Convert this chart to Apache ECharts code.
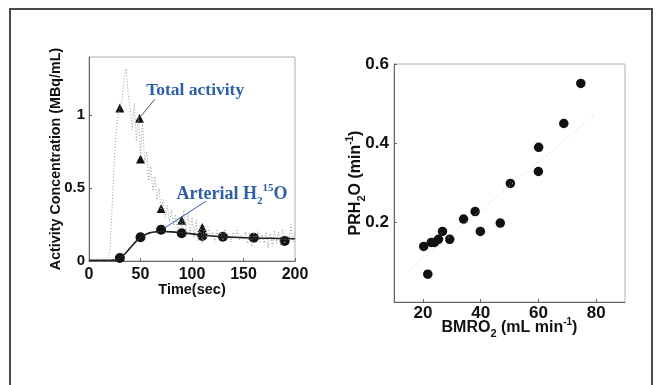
<!DOCTYPE html>
<html>
<head>
<meta charset="utf-8">
<script src="https://cdn.jsdelivr.net/npm/echarts@6/dist/echarts.min.js"></script>
<style>
  html, body { margin: 0; padding: 0; background: #fff; }
  #chart { width: 657px; height: 385px; }
</style>
</head>
<body>
<div id="chart"></div>
<script>
// ---- Left panel: arterial input curves ----
// Raw total activity samples (s, MBq/mL)
const rawTimes = [0,2,4,6,8,10,12,14,16,18,20,22,24,26,28,30,32,34,36,38,40,42,44,46,48,50,52,54,56,58,60,62,64,66,68,70,72,74,76,78,80,82,84,86,88,90,92,94,96,98,100,102,104,106,108,110,112,114,116,118,120,122,124,126,128,130,132,134,136,138,140,142,144,146,148,150,152,154,156,158,160,162,164,166,168,170,172,174,176,178,180,182,184,186,188,190,192,194,196,198,200];
const rawTotal = [0.005,0.01,0.0,0.01,0.02,0.01,0.01,0.015,0.01,0.02,0.05,0.3,0.6,0.85,1.0,1.05,1.1,1.25,1.32,1.15,1.05,0.9,1.08,0.82,1.0,0.72,0.95,0.68,0.75,0.55,0.65,0.48,0.58,0.42,0.5,0.35,0.42,0.3,0.38,0.27,0.35,0.24,0.32,0.2,0.3,0.22,0.35,0.2,0.33,0.18,0.3,0.16,0.28,0.14,0.25,0.12,0.24,0.15,0.22,0.16,0.2,0.13,0.21,0.15,0.2,0.14,0.22,0.15,0.19,0.13,0.2,0.16,0.21,0.14,0.18,0.15,0.2,0.12,0.19,0.1,0.2,0.15,0.21,0.13,0.18,0.12,0.2,0.09,0.19,0.1,0.21,0.12,0.2,0.11,0.22,0.12,0.18,0.14,0.25,0.13,0.2];

// Sampled total activity (triangles)
const totalTimes = [30,49,50,70,90,110];
const totalActivity = [1.05,0.98,0.70,0.36,0.28,0.23];

// Sampled arterial H2 15O (circles)
const waterTimes = [30,50,70,90,110,130,160,190];
const waterActivity = [0.02,0.163,0.214,0.19,0.172,0.166,0.159,0.138];

// Fitted arterial H2 15O curve
const curveTimes = [0,20,25,30,35,40,45,50,55,60,65,70,80,90,100,110,120,130,140,160,180,200];
const curveValues = [0.005,0.005,0.006,0.02,0.05,0.09,0.13,0.16,0.182,0.195,0.2,0.202,0.2,0.194,0.186,0.178,0.172,0.167,0.163,0.158,0.155,0.153];

const leftXTicks = [0,50,100,150,200];
const leftYTicks = [0,0.5,1];

// ---- Right panel: PRH2O vs BMRO2 ----
const bmro2 = [20.3,21.7,22.9,24.0,25.4,26.8,29.3,34.1,38.1,39.9,46.8,50.3,60.0,60.1,68.8,74.7];
const prh2o = [0.14,0.07,0.15,0.15,0.158,0.178,0.158,0.209,0.228,0.178,0.199,0.299,0.329,0.39,0.45,0.551];
const fitX = [15.9,79.6];
const fitY = [0.085,0.4725];

const rightXTicks = [20,40,60,80];
const rightYTicks = [0.2,0.4,0.6];

const zip = (a, b) => a.map((v, i) => [v, b[i]]);

const INK = '#111111';
const BLUE = '#2d5ea8';
const SANS = 'Liberation Sans, Arial, sans-serif';
const SERIF = 'Liberation Serif, Times New Roman, serif';

const chart = echarts.init(document.getElementById('chart'), null, { renderer: 'canvas' });

const nameRich = {
  n: { fontFamily: SANS, fontWeight: 'bold', fontSize: 16, color: INK, lineHeight: 22 },
  sub: { fontFamily: SANS, fontWeight: 'bold', fontSize: 11, color: INK, lineHeight: 22, verticalAlign: 'bottom' },
  sup: { fontFamily: SANS, fontWeight: 'bold', fontSize: 10, color: INK, lineHeight: 22, verticalAlign: 'top' }
};

const option = {
  backgroundColor: '#fff',
  animation: false,
  graphic: [{
    type: 'rect',
    shape: { x: 10, y: 9, width: 642, height: 390 },
    style: { fill: 'none', stroke: '#4a4a4a', lineWidth: 2 },
    silent: true
  }],
  grid: [
    { left: 89, top: 57, width: 206, height: 204, show: true, borderColor: '#b0b0b0', borderWidth: 1, outerBoundsMode: 'none' },
    { left: 394, top: 64, width: 231, height: 238, show: true, borderColor: '#b0b0b0', borderWidth: 1, outerBoundsMode: 'none' }
  ],
  xAxis: [
    {
      gridIndex: 0, type: 'value', min: 0, max: 200, interval: 50,
      name: 'Time(sec)', nameLocation: 'middle', nameGap: 21, nameMoveOverlap: false,
      nameTextStyle: { fontFamily: SANS, fontWeight: 'bold', fontSize: 14.5, color: INK },
      axisLine: { show: true, lineStyle: { color: '#666', width: 1 } },
      axisTick: { show: true, inside: true, length: 3, customValues: leftXTicks, lineStyle: { color: '#666' } },
      axisLabel: { customValues: leftXTicks, margin: 6, fontFamily: SANS, fontWeight: 'bold', fontSize: 16, color: INK },
      splitLine: { show: false }
    },
    {
      gridIndex: 1, type: 'value', min: 10, max: 90,
      name: '{n|BMRO}{sub|2}{n| (mL min}{sup|-1}{n|)}', nameLocation: 'middle', nameGap: 15, nameMoveOverlap: false,
      nameTextStyle: { rich: nameRich },
      axisLine: { show: true, lineStyle: { color: '#666', width: 1 } },
      axisTick: { show: true, inside: true, length: 3, customValues: rightXTicks, lineStyle: { color: '#666' } },
      axisLabel: { customValues: rightXTicks, margin: 3, fontFamily: SANS, fontWeight: 'bold', fontSize: 17, color: INK },
      splitLine: { show: false }
    }
  ],
  yAxis: [
    {
      gridIndex: 0, type: 'value', min: 0, max: 1.4,
      name: 'Activity Concentration (MBq/mL)', nameLocation: 'middle', nameGap: 26, nameMoveOverlap: false,
      nameTextStyle: { fontFamily: SANS, fontWeight: 'bold', fontSize: 14.3, color: INK },
      axisLine: { show: true, lineStyle: { color: '#666', width: 1 } },
      axisTick: { show: true, inside: true, length: 3, customValues: leftYTicks, lineStyle: { color: '#666' } },
      axisLabel: { customValues: leftYTicks, margin: 4, fontFamily: SANS, fontWeight: 'bold', fontSize: 15, color: INK },
      splitLine: { show: false }
    },
    {
      gridIndex: 1, type: 'value', min: 0, max: 0.6,
      name: '{n|PRH}{sub|2}{n|O (min}{sup|-1}{n|)}', nameLocation: 'middle', nameGap: 27, nameMoveOverlap: false,
      nameTextStyle: { rich: nameRich },
      axisLine: { show: true, lineStyle: { color: '#666', width: 1 } },
      axisTick: { show: true, inside: true, length: 3, customValues: rightYTicks, lineStyle: { color: '#666' } },
      axisLabel: { customValues: rightYTicks, margin: 5, fontFamily: SANS, fontWeight: 'bold', fontSize: 17, color: INK },
      splitLine: { show: false }
    }
  ],
  series: [
    {
      name: 'raw total', type: 'line', xAxisIndex: 0, yAxisIndex: 0,
      data: zip(rawTimes, rawTotal), showSymbol: false, silent: true,
      lineStyle: { color: '#999', width: 1, type: [1, 2] }
    },
    {
      name: 'arterial fit', type: 'line', xAxisIndex: 0, yAxisIndex: 0,
      data: zip(curveTimes, curveValues), smooth: true, showSymbol: false, silent: true,
      lineStyle: { color: '#222', width: 1.6 }
    },
    {
      name: 'Total activity', type: 'scatter', xAxisIndex: 0, yAxisIndex: 0,
      data: zip(totalTimes, totalActivity), symbol: 'triangle', symbolSize: 9,
      itemStyle: { color: INK, opacity: 1 },
      markLine: {
        silent: true, symbol: ['none', 'arrow'], symbolSize: [0, 7],
        lineStyle: { color: '#555', width: 1, type: 'solid' }, label: { show: false },
        data: [[{ coord: [64, 1.11] }, { coord: [50.5, 0.995] }]]
      },
      markPoint: {
        silent: true, symbol: 'circle', symbolSize: 0,
        data: [{
          coord: [55.5, 1.17],
          label: {
            show: true, position: 'right', distance: 0,
            formatter: 'Total activity',
            fontFamily: SERIF, fontWeight: 'bold', fontSize: 17.5, color: BLUE
          }
        }]
      }
    },
    {
      name: 'Arterial H2 15O', type: 'scatter', xAxisIndex: 0, yAxisIndex: 0,
      data: zip(waterTimes, waterActivity), symbol: 'circle', symbolSize: 10,
      itemStyle: { color: INK, opacity: 1 },
      markLine: {
        silent: true, symbol: ['none', 'arrow'], symbolSize: [0, 7],
        lineStyle: { color: BLUE, width: 1, type: 'solid' }, label: { show: false },
        data: [[{ coord: [113.5, 0.41] }, { coord: [73, 0.225] }]]
      },
      markPoint: {
        silent: true, symbol: 'circle', symbolSize: 0,
        data: [{
          coord: [85, 0.455],
          label: {
            show: true, position: 'right', distance: 0,
            formatter: '{a|Arterial H}{sub|2}{sup|15}{a|O}',
            rich: {
              a: { fontFamily: SERIF, fontWeight: 'bold', fontSize: 18, color: BLUE, lineHeight: 24 },
              sub: { fontFamily: SERIF, fontWeight: 'bold', fontSize: 11, color: BLUE, lineHeight: 24, verticalAlign: 'bottom' },
              sup: { fontFamily: SERIF, fontWeight: 'bold', fontSize: 11, color: BLUE, lineHeight: 24, verticalAlign: 'top' }
            }
          }
        }]
      }
    },
    {
      name: 'fit', type: 'line', xAxisIndex: 1, yAxisIndex: 1,
      data: zip(fitX, fitY), showSymbol: false, silent: true,
      lineStyle: { color: '#c8c8c8', width: 1, type: [1, 3] }
    },
    {
      name: 'PRH2O', type: 'scatter', xAxisIndex: 1, yAxisIndex: 1,
      data: zip(bmro2, prh2o), symbol: 'circle', symbolSize: 9.5,
      itemStyle: { color: INK, opacity: 1 }
    }
  ]
};

chart.setOption(option);
</script>
</body>
</html>
